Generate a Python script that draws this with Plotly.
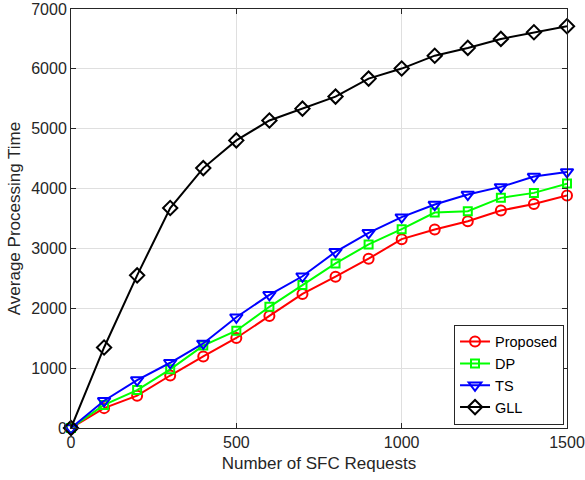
import plotly.graph_objects as go

requests = [0, 100, 200, 300, 400, 500, 600, 700, 800, 900, 1000, 1100, 1200, 1300, 1400, 1500]
proposed = [0, 332, 540, 877, 1195, 1504, 1872, 2240, 2528, 2828, 3155, 3317, 3455, 3633, 3743, 3883]
dp = [0, 385, 633, 980, 1377, 1625, 2025, 2390, 2750, 3067, 3322, 3600, 3622, 3845, 3928, 4083]
ts = [0, 455, 800, 1090, 1412, 1850, 2225, 2535, 2943, 3260, 3522, 3733, 3900, 4028, 4200, 4278]
gll = [0, 1345, 2550, 3675, 4342, 4805, 5138, 5335, 5537, 5837, 6005, 6220, 6350, 6500, 6612, 6712]

series = [
    ("Proposed", proposed, "#ff0000", "circle-open", 10),
    ("DP", dp, "#00ff00", "square-open", 8),
    ("TS", ts, "#0000ff", "triangle-down-open", 11),
    ("GLL", gll, "#000000", "diamond-open", 11),
]

fig = go.Figure()
for name, vals, color, sym, size in series:
    fig.add_trace(go.Scatter(
        x=requests, y=vals, name=name, mode="lines+markers",
        line=dict(color=color, width=2),
        marker=dict(symbol=sym, size=size, color=color, line=dict(color=color, width=2)),
        cliponaxis=False,
    ))

FONT = "Liberation Sans, Arial"
axis_common = dict(
    showgrid=True, gridcolor="#dfdfdf", gridwidth=1,
    showline=True, linecolor="#262626", linewidth=1, mirror="ticks",
    ticks="inside", ticklen=5, tickcolor="#262626",
    tickfont=dict(family=FONT, size=16, color="#262626"),
    zeroline=False, automargin=False, ticklabeloverflow="allow",
)

fig.update_layout(
    width=585, height=480,
    margin=dict(l=71, r=18, t=9, b=52),
    paper_bgcolor="white", plot_bgcolor="white",
    font=dict(family=FONT, size=15, color="#262626"),
    xaxis=dict(range=[0, 1500], tickvals=[0, 500, 1000, 1500],
               title=dict(text="Number of SFC Requests", standoff=6,
                          font=dict(size=17, color="#262626")), **axis_common),
    yaxis=dict(range=[0, 7000], tickvals=list(range(0, 7001, 1000)),
               title=dict(text="Average Processing Time", standoff=6,
                          font=dict(size=17, color="#262626")), **axis_common),
    legend=dict(x=0.994, y=0.008, xanchor="right", yanchor="bottom",
                bgcolor="white", bordercolor="#262626", borderwidth=1,
                font=dict(family=FONT, size=14.5, color="#000000"),
                itemwidth=30, tracegroupgap=0),
    showlegend=True,
)

fig.write_html("out.html", config={"displayModeBar": False},
               post_script="document.body.style.margin='0';")
